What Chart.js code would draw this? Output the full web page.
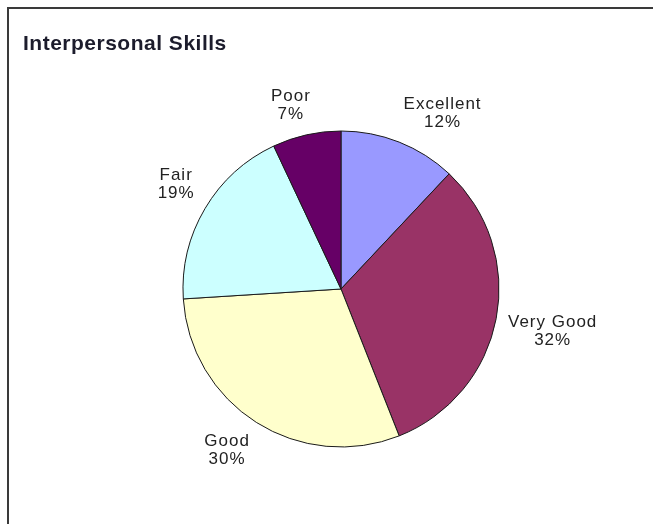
<!DOCTYPE html>
<html>
<head>
<meta charset="utf-8">
<script src="https://cdn.jsdelivr.net/npm/chart.js@4/dist/chart.umd.min.js"></script>
<style>
  html, body { margin: 0; padding: 0; background: #fff; overflow: hidden; }
  #frame {
    position: absolute; left: 7px; top: 7px; width: 700px; height: 600px;
    border-left: 2px solid #3a3a3a; border-top: 2px solid #3a3a3a;
  }
  #chart { position: absolute; left: 0; top: 0; }
</style>
</head>
<body>
<div id="frame"></div>
<canvas id="chart" width="653" height="524"></canvas>
<script>
var chartTitle = 'Interpersonal Skills';
var categories = ['Excellent', 'Very Good', 'Good', 'Fair', 'Poor'];
var percents = [12, 32, 30, 19, 7];
var sliceColors = ['#9999FF', '#993366', '#FFFFCC', '#CCFFFF', '#660066'];

/**
 * Draws the title in the top left corner and the
 * "name / percent" labels next to each slice
 */
var sliceLabels = {
  id: 'sliceLabels',
  afterDraw: function(chart) {
    var ctx = chart.ctx;
    ctx.save();

    // title
    ctx.font = 'bold 21px "Liberation Sans", Arial, sans-serif';
    ctx.letterSpacing = '0.5px';
    ctx.fillStyle = '#1c1c2c';
    ctx.textAlign = 'left';
    ctx.textBaseline = 'alphabetic';
    ctx.fillText(chartTitle, 23, 50);

    // slice labels
    ctx.font = '17px "Liberation Sans", Arial, sans-serif';
    ctx.letterSpacing = '1px';
    ctx.fillStyle = '#222';
    ctx.textAlign = 'center';
    ctx.textBaseline = 'middle';

    var lineH = 18;
    var clamp = function(v) { return Math.max(-1, Math.min(1, v * 3)); };
    var meta = chart.getDatasetMeta(0);
    meta.data.forEach(function(arc, i) {
      var p = arc.getProps(['x', 'y', 'startAngle', 'endAngle', 'outerRadius'], true);
      var mid = (p.startAngle + p.endAngle) / 2;
      var r = p.outerRadius + 12;
      var ax = p.x + Math.cos(mid) * r;
      var ay = p.y + Math.sin(mid) * r;
      var lines = [categories[i], percents[i] + '%'];
      var w = Math.max(ctx.measureText(lines[0]).width, ctx.measureText(lines[1]).width);
      var h = lines.length * lineH;
      // sin/cos measured from the top, clockwise
      var s = Math.cos(mid), c = -Math.sin(mid);
      var cx = ax + w / 2 * clamp(s);
      var cy = ay - h / 2 * clamp(c);
      ctx.fillText(lines[0], cx, cy - lineH / 2);
      ctx.fillText(lines[1], cx, cy + lineH / 2);
    });
    ctx.restore();
  }
};

var ctx = document.getElementById('chart').getContext('2d');
var myChart = new Chart(ctx, {
  type: 'pie',
  data: {
    labels: categories,
    datasets: [{
      data: percents,
      backgroundColor: sliceColors,
      borderColor: '#1a1a1a',
      borderWidth: 1,
      radius: 158
    }]
  },
  options: {
    responsive: false,
    animation: false,
    events: [],
    layout: { padding: { left: 60, right: 31, top: 100, bottom: 46 } },
    plugins: {
      legend: { display: false },
      tooltip: { enabled: false },
      title: { display: false }
    }
  },
  plugins: [sliceLabels]
});
</script>
</body>
</html>
